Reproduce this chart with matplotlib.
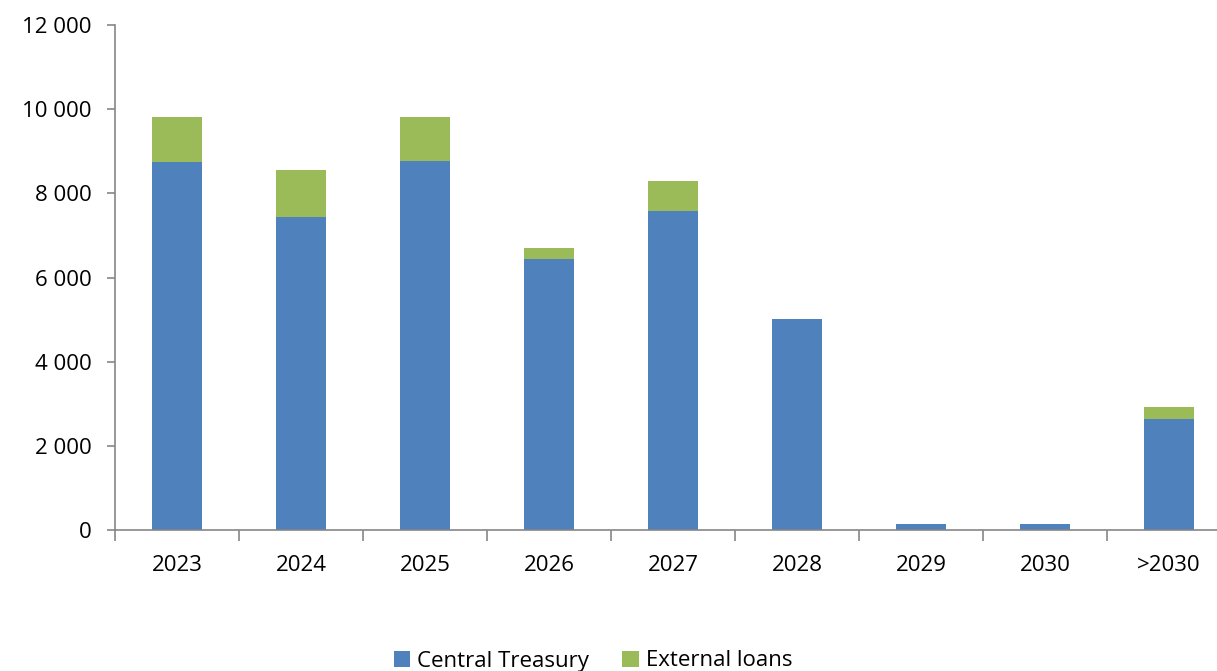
import numpy as np
import matplotlib.pyplot as plt
from matplotlib.ticker import FuncFormatter

years = ["2023", "2024", "2025", "2026", "2027", "2028", "2029", "2030", ">2030"]
central_treasury = [8750, 7435, 8775, 6430, 7580, 5005, 135, 135, 2645]
external_loans = [1070, 1120, 1045, 265, 715, 0, 0, 0, 285]

plt.rcParams['font.family'] = ['Open Sans', 'DejaVu Sans']

fig = plt.figure(figsize=(12.17, 6.71), dpi=100)
ax = fig.add_axes([115/1217, (671-530)/671, 1116/1217, 505/671])

x = np.arange(len(years))
b1 = ax.bar(x, central_treasury, width=0.4, color='#4F81BD', label="Central Treasury", zorder=2)
b2 = ax.bar(x, external_loans, width=0.4, bottom=central_treasury, color='#9BBB59',
            label="External loans", zorder=2)

ax.set_xlim(-0.5, len(years) - 0.5)
ax.set_ylim(0, 12000)
ax.set_yticks(np.arange(0, 12001, 2000))
ax.yaxis.set_major_formatter(FuncFormatter(lambda v, p: "{:,.0f}".format(v).replace(",", " ")))

# tick marks between categories, labels at centres
ax.set_xticks(np.arange(-0.5, len(years), 1.0))
ax.set_xticklabels([])
ax.set_xticks(x, minor=True)
ax.set_xticklabels(years, minor=True)
ax.tick_params(axis='x', which='major', length=8, color='#868686', width=1.2)
ax.tick_params(axis='x', which='minor', length=0, pad=18, labelsize=16)
ax.tick_params(axis='y', length=6, color='#868686', width=1.2, pad=11, labelsize=16)

for s in ['top', 'right']:
    ax.spines[s].set_visible(False)
for s in ['left', 'bottom']:
    ax.spines[s].set_color('#868686')
    ax.spines[s].set_linewidth(1.2)

fig.legend(handles=[b1, b2], loc='center', bbox_to_anchor=(593/1217, 1 - 661/671),
           ncol=2, frameon=False, fontsize=16, handlelength=0.75, handleheight=0.75,
           handletextpad=0.3, columnspacing=1.5, borderpad=0)

fig.savefig("out.png")
